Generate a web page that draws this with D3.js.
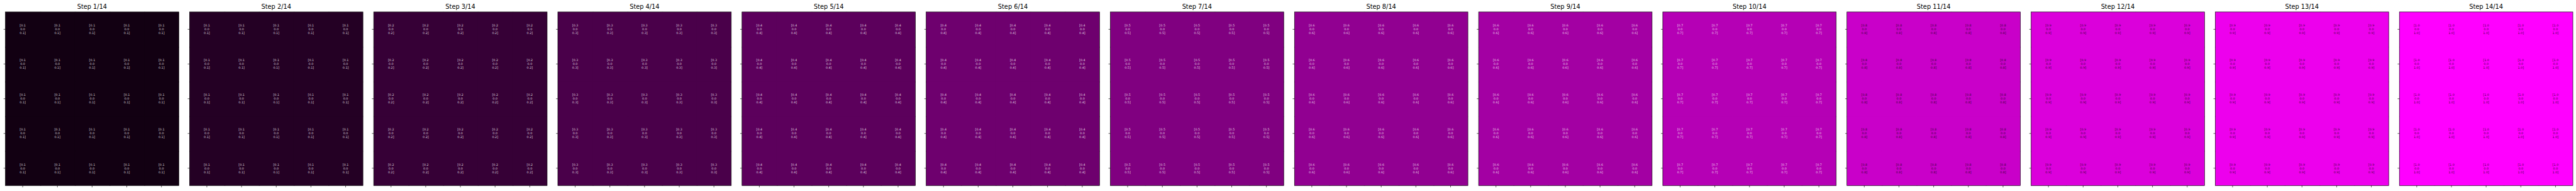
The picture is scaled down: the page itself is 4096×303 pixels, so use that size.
<!DOCTYPE html>
<html>
<head>
<meta charset="utf-8">
<script src="https://cdn.jsdelivr.net/npm/d3@7"></script>
<style>
  html, body { margin: 0; padding: 0; background: #ffffff; }
  svg { display: block; }
  text { font-family: "DejaVu Sans", sans-serif; }
</style>
</head>
<body>
<svg id="chart"></svg>
<script>
// ---- data ----
const stepTitles = ["Step 1/14","Step 2/14","Step 3/14","Step 4/14","Step 5/14","Step 6/14","Step 7/14",
                    "Step 8/14","Step 9/14","Step 10/14","Step 11/14","Step 12/14","Step 13/14","Step 14/14"];
const redValues   = [0.07, 0.14, 0.21, 0.29, 0.36, 0.43, 0.50, 0.57, 0.64, 0.71, 0.79, 0.86, 0.93, 1.00];
const greenValues = [0.00, 0.00, 0.00, 0.00, 0.00, 0.00, 0.00, 0.00, 0.00, 0.00, 0.00, 0.00, 0.00, 0.00];
const blueValues  = [0.07, 0.14, 0.21, 0.29, 0.36, 0.43, 0.50, 0.57, 0.64, 0.71, 0.79, 0.86, 0.93, 1.00];
const gridRows = [0, 1, 2, 3, 4];
const gridCols = [0, 1, 2, 3, 4];

// ---- layout (reference pixel units, scaled by viewBox) ----
const W = 6980, H = 517;
const panelLeft0 = 14.5, panelPitch = 499, panelTop = 32.3, panelSize = 470;

const svg = d3.select("#chart")
  .attr("width", 4096).attr("height", 303)
  .attr("viewBox", `0 0 ${W} ${H}`)
  .attr("preserveAspectRatio", "none");

const panelX = d3.scaleLinear().domain([0, 1]).range([panelLeft0, panelLeft0 + panelPitch]);
const x = d3.scaleBand().domain(gridCols).range([0, panelSize]);
const y = d3.scaleBand().domain(gridRows).range([0, panelSize]);
const fmt = d3.format(".1f");
const tickLen = 4.86, lineW = 1.1;
const lastCol = gridCols[gridCols.length - 1], lastRow = gridRows[gridRows.length - 1];

stepTitles.forEach((title, i) => {
  const r = redValues[i], g = greenValues[i], b = blueValues[i];
  const fill = d3.rgb(Math.round(r * 255), Math.round(g * 255), Math.round(b * 255)).toString();
  const dark = r < 0.75;
  const gPanel = svg.append("g").attr("transform", `translate(${panelX(i)},${panelTop})`);

  const cells = [];
  gridRows.forEach(row => gridCols.forEach(col => cells.push({row, col})));

  gPanel.selectAll("rect.cell").data(cells).join("rect")
    .attr("class", "cell")
    .attr("x", d => x(d.col)).attr("y", d => y(d.row))
    .attr("width", d => x.bandwidth() + (d.col < lastCol ? 3 : 0))
    .attr("height", d => y.bandwidth() + (d.row < lastRow ? 3 : 0))
    .attr("fill", fill);

  const lines = ["[" + fmt(r), fmt(g), fmt(b) + "]"];
  const labels = gPanel.selectAll("g.lab").data(cells).join("g")
    .attr("class", "lab")
    .attr("transform", d => `translate(${x(d.col) + x.bandwidth() / 2},${y(d.row) + y.bandwidth() / 2})`);
  labels.selectAll("text").data(lines).join("text")
    .attr("x", 0)
    .attr("y", (d, k) => (k - 1) * 10.3)
    .attr("dy", "0.35em")
    .attr("text-anchor", "middle")
    .attr("font-size", 8.3)
    .attr("fill", dark ? "#ffffff" : "#000000")
    .attr("fill-opacity", 0.8)
    .text(d => d);

  // axes: ticks only, no labels
  const ax = gPanel.append("g")
    .call(d3.axisLeft(y).tickSize(tickLen).tickSizeOuter(0).tickFormat(""));
  const ay = gPanel.append("g").attr("transform", `translate(0,${panelSize})`)
    .call(d3.axisBottom(x).tickSize(tickLen).tickSizeOuter(0).tickFormat(""));
  [ax, ay].forEach(a => {
    a.select(".domain").remove();
    a.selectAll("line").attr("stroke", "#000").attr("stroke-width", lineW);
  });

  gPanel.append("rect")
    .attr("x", 0).attr("y", 0).attr("width", panelSize).attr("height", panelSize)
    .attr("fill", "none").attr("stroke", "#000").attr("stroke-width", lineW);

  gPanel.append("text")
    .attr("x", panelSize / 2).attr("y", -8.3)
    .attr("text-anchor", "middle")
    .attr("font-size", 16.7)
    .attr("fill", "#000")
    .text(title);
});
</script>
</body>
</html>
